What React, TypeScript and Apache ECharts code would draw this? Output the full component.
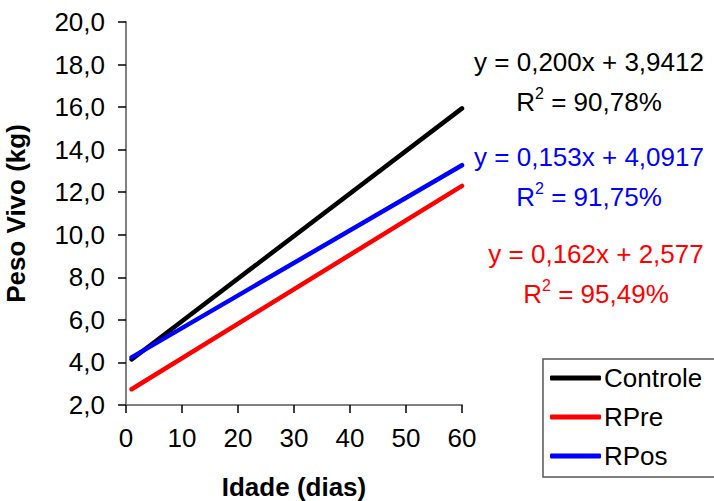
import React, { useEffect, useRef } from "react";
import * as echarts from "echarts";

const idade = [1, 60];
const controle = [4.14, 15.94];
const rpre = [2.74, 12.3];
const rpos = [4.24, 13.27];
const seriesNames = ["Controle", "RPre", "RPos"];
const seriesColors = ["#000000", "#ff0000", "#0000ff"];
const equations = [
  { eq: "y = 0,200x + 3,9412", r2: "90,78%" },
  { eq: "y = 0,153x + 4,0917", r2: "91,75%" },
  { eq: "y = 0,162x + 2,577", r2: "95,49%" },
];

const FONT = "'Liberation Sans', Arial, Helvetica, sans-serif";

export default function App() {
  const ref = useRef<HTMLDivElement>(null);
  useEffect(() => {
    if (!ref.current) return;
    const chart = echarts.init(ref.current, undefined, { renderer: "svg" });
    const values = [controle, rpre, rpos];
    const eqPos = [
      { x: 589, y1: 62, y2: 100 },
      { x: 589, y1: 157, y2: 195 },
      { x: 596, y1: 254, y2: 292 },
    ];
    const eqColors = ["#000000", "#0000ff", "#ff0000"];
    const graphics: any[] = [];
    equations.forEach((e, i) => {
      graphics.push({
        type: "text",
        x: eqPos[i].x,
        y: eqPos[i].y1,
        style: {
          text: e.eq,
          fill: eqColors[i],
          font: `26px ${FONT}`,
          textAlign: "center",
          textVerticalAlign: "middle",
        },
      });
      graphics.push({
        type: "text",
        x: eqPos[i].x,
        y: eqPos[i].y2,
        style: {
          text: `{n|R}{s|2}{n| = ${e.r2}}`,
          textAlign: "center",
          textVerticalAlign: "middle",
          rich: {
            n: { fontSize: 26, fontFamily: FONT, fill: eqColors[i], lineHeight: 30, verticalAlign: "bottom" },
            s: { fontSize: 16, fontFamily: FONT, fill: eqColors[i], lineHeight: 16, verticalAlign: "top" },
          },
        },
      });
    });
    chart.setOption({
      animation: false,
      textStyle: { fontFamily: FONT },
      grid: { left: 126, right: 252, top: 22, bottom: 96, containLabel: false, outerBoundsMode: "none" },
      xAxis: {
        type: "value",
        min: 0,
        max: 60,
        interval: 10,
        name: "Idade (dias)",
        nameLocation: "middle",
        nameGap: 69,
        nameTextStyle: { fontSize: 26, fontWeight: "bold", color: "#000", fontFamily: FONT },
        axisLine: { lineStyle: { color: "#808080", width: 2 } },
        axisTick: { show: true, length: 8, lineStyle: { color: "#000", width: 1.5 } },
        axisLabel: { fontSize: 26, color: "#000", margin: 20, fontFamily: FONT },
        splitLine: { show: false },
      },
      yAxis: {
        type: "value",
        min: 2,
        max: 20,
        interval: 2,
        name: "Peso Vivo (kg)",
        nameLocation: "middle",
        nameGap: 97,
        nameTextStyle: { fontSize: 26, fontWeight: "bold", color: "#000", fontFamily: FONT },
        axisLine: { show: true, lineStyle: { color: "#808080", width: 2 } },
        axisTick: { show: true, length: 8, lineStyle: { color: "#000", width: 1.5 } },
        axisLabel: {
          fontSize: 26,
          color: "#000",
          margin: 21,
          fontFamily: FONT,
          formatter: (v: number) => v.toFixed(1).replace(".", ","),
        },
        splitLine: { show: false },
      },
      legend: {
        orient: "vertical",
        left: 543,
        top: 359,
        data: seriesNames,
        borderColor: "#555",
        borderWidth: 1.5,
        padding: [6, 40, 8, 7],
        icon: "roundRect",
        itemWidth: 51,
        itemHeight: 5,
        itemGap: 13,
        textStyle: { fontSize: 26, color: "#000", fontFamily: FONT, padding: [0, 0, 0, -2] },
      },
      series: seriesNames.map((name, i) => ({
        name,
        type: "line",
        data: idade.map((x, j) => [x, values[i][j]]),
        symbol: "none",
        lineStyle: { color: seriesColors[i], width: 4.5, cap: "round" },
        itemStyle: { color: seriesColors[i] },
      })),
      graphic: graphics,
    });
    return () => chart.dispose();
  }, []);
  return <div ref={ref} style={{ width: 714, height: 501, position: "absolute", left: 0, top: 0 }} />;
}
